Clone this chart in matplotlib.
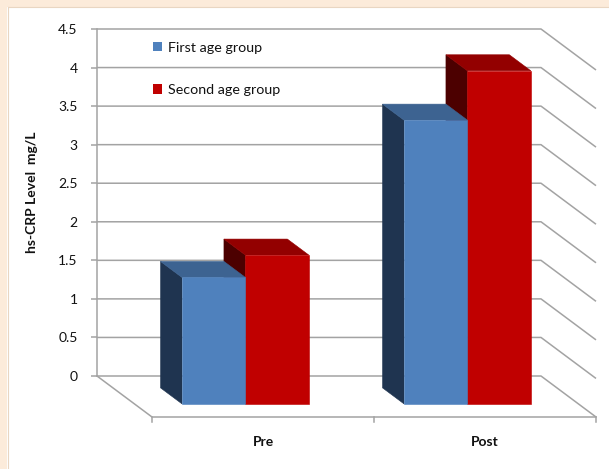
import matplotlib
matplotlib.use("Agg")
import matplotlib.pyplot as plt
from matplotlib.patches import Polygon, Rectangle
import numpy as np

# ---- data -------------------------------------------------------------
categories = ["Pre", "Post"]
series_names = ["First age group", "Second age group"]
first_age = [1.64, 3.68]
second_age = [1.93, 4.32]
y_ticks = [0, 0.5, 1, 1.5, 2, 2.5, 3, 3.5, 4, 4.5]
y_tick_labels = ["0", "0.5", "1", "1.5", "2", "2.5", "3", "3.5", "4", "4.5"]
y_label = "hs-CRP Level  mg/L"

# ---- style ------------------------------------------------------------
plt.rcParams["font.family"] = ["Lato", "DejaVu Sans"]
front_cols = ["#4F81BD", "#C00000"]
top_cols = ["#3D6391", "#930000"]
side_cols = ["#1F3450", "#4C0000"]
grid_col = "#A3A3A3"
peach = "#FCEBDA"

W, H = 609, 469
fig = plt.figure(figsize=(W / 100, H / 100), dpi=100)
fig.patch.set_facecolor("white")

# peach frame strips on the left and top edges
fig.add_artist(Rectangle((0, 0), 7 / W, 1, transform=fig.transFigure,
                         facecolor=peach, edgecolor="none", zorder=0))
fig.add_artist(Rectangle((0, 1 - 7 / H), 1, 7 / H, transform=fig.transFigure,
                         facecolor=peach, edgecolor="none", zorder=0))
fig.add_artist(plt.Line2D([7.5 / W, 7.5 / W], [0, 1 - 7.5 / H], transform=fig.transFigure,
                          color="#E9D6C2", lw=0.8))
fig.add_artist(plt.Line2D([7.5 / W, 1], [1 - 7.5 / H, 1 - 7.5 / H], transform=fig.transFigure,
                          color="#E9D6C2", lw=0.8))

# back wall of the chart occupies this axes
ax = fig.add_axes([97 / W, 93 / H, 444 / W, 347 / H])
ax.set_xlim(0, len(categories))
ax.set_ylim(0, 4.5)
ax.patch.set_alpha(0)
for s in ["top", "right", "bottom"]:
    ax.spines[s].set_visible(False)
ax.spines["left"].set_color(grid_col)
ax.spines["left"].set_linewidth(1.1)
ax.set_xticks([])
ax.set_yticks(y_ticks)
ax.set_yticklabels(y_tick_labels)
ax.tick_params(axis="y", length=4, width=1.1, color=grid_col, pad=10,
               labelsize=10, labelcolor="#111111")

# oblique depth offset (data units per unit of depth)
px_per_cat = 444 / len(categories)
px_per_val = 347 / 4.5
DX = 55 / px_per_cat
DY = -41 / px_per_val


def proj(x, v, z):
    return (x + DX * z, v + DY * z)


# back-wall gridlines with their run down the right-hand wall
n = len(categories)
for v in y_ticks:
    p = proj(n, v, 1)
    ax.plot([0, n, p[0]], [v, v, p[1]], color=grid_col, lw=1.1,
            clip_on=False, zorder=1, solid_capstyle="butt")

# floor edges and category tick marks
f0 = proj(0, 0, 1)
f1 = proj(n, 0, 1)
ax.plot([0, f0[0], f1[0]], [0, f0[1], f1[1]], color=grid_col, lw=1.1,
        clip_on=False, zorder=1)
tick_len = 5 / px_per_val
for i in range(n + 1):
    p = proj(i, 0, 1)
    ax.plot([p[0], p[0]], [p[1], p[1] - tick_len], color=grid_col, lw=1.1,
            clip_on=False, zorder=1)

# category labels under the floor
for i, c in enumerate(categories):
    p = proj(i + 0.5, 0, 1)
    ax.text(p[0], p[1] - 25 / px_per_val, c, ha="center", va="center",
            fontsize=10, fontweight="bold", color="#111111", clip_on=False)

# 3-D style columns
bar_w = 63.4 / px_per_cat
z0, z1 = 0.29, 0.68
values = [first_age, second_age]
for i in range(n):
    x_start = i + (1 - 2 * bar_w) / 2
    # red column first so the blue one can sit in front of its side face
    for j in (1, 0):
        v = values[j][i]
        x0 = x_start + j * bar_w
        x1 = x0 + bar_w
        side = [proj(x0, 0, z0), proj(x0, 0, z1), proj(x0, v, z1), proj(x0, v, z0)]
        top = [proj(x0, v, z0), proj(x1, v, z0), proj(x1, v, z1), proj(x0, v, z1)]
        front = [proj(x0, 0, z1), proj(x1, 0, z1), proj(x1, v, z1), proj(x0, v, z1)]
        for pts, col in ((side, side_cols[j]), (top, top_cols[j]), (front, front_cols[j])):
            ax.add_patch(Polygon(pts, closed=True, facecolor=col, edgecolor=col,
                                 lw=0.4, clip_on=False, zorder=3 + (1 - j)))

handles = [Rectangle((0, 0), 1, 1, facecolor=front_cols[j], edgecolor="none")
           for j in range(2)]
leg = ax.legend(handles, series_names, loc="upper left",
                bbox_to_anchor=(153 / W, 1 - 42 / H), bbox_transform=fig.transFigure,
                frameon=False, fontsize=10.3, handlelength=0.6, handleheight=0.6,
                handletextpad=0.45, labelspacing=2.1, borderpad=0, borderaxespad=0)
for t in leg.get_texts():
    t.set_color("#111111")

ax.set_ylabel(y_label, fontsize=10, fontweight="bold", color="#111111")
ax.yaxis.set_label_coords((38 - 97) / 444, (376 - 192) / 347)

fig.savefig("out.png", dpi=100, facecolor=fig.get_facecolor())
